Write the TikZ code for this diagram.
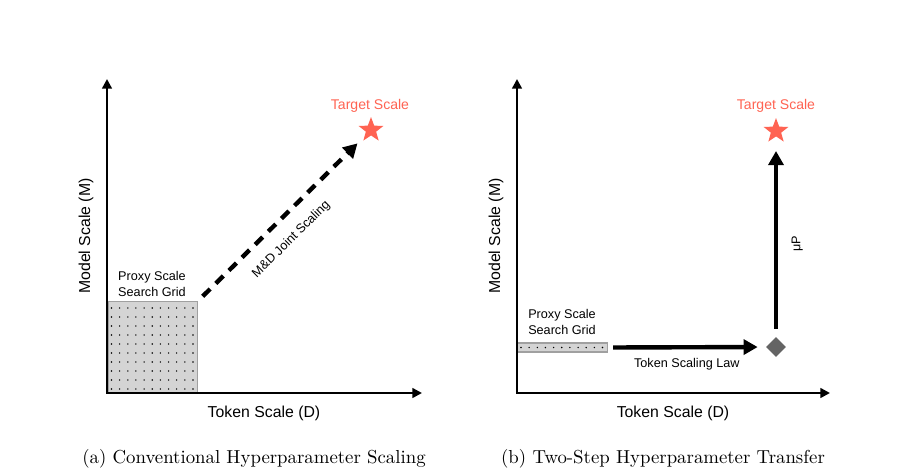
\documentclass[tikz,border=0pt]{standalone}
\usepackage{fontspec}
\setsansfont{Liberation Sans}
\usepackage{tikz}
\usetikzlibrary{arrows.meta,shapes.geometric}

\definecolor{TargetRed}{RGB}{255,99,82}
\definecolor{GridGray}{RGB}{212,212,212}
\definecolor{GridEdge}{RGB}{160,160,160}
\definecolor{PivotGray}{RGB}{100,100,100}

\begin{document}
\begin{tikzpicture}[%
		font=\sffamily,
		axis/.style={line width=1.4pt, {Triangle[length=5.5pt,width=5.5pt]}-{Triangle[length=5.5pt,width=5.5pt]}},
		bigarrow/.style={line width=2.5pt, -{Triangle[length=8pt,width=8.5pt]}},
		jointarrow/.style={bigarrow, dash pattern=on 6pt off 4.5pt},
		proxybox/.style={draw=GridEdge, fill=GridGray, line width=0.6pt, inner sep=0pt},
		target/.style={star, star points=5, star point ratio=2.4, fill=TargetRed, inner sep=0pt, minimum size=0.52cm},
		targetlabel/.style={text=TargetRed, font=\sffamily\fontsize{8}{9.6}\selectfont},
		axislabel/.style={font=\sffamily\fontsize{9}{10.8}\selectfont},
		smalllabel/.style={font=\sffamily\fontsize{7.2}{8.6}\selectfont, align=center},
		caption/.style={font=\rmfamily\fontsize{10.7}{12.8}\selectfont}
		]

		\useasboundingbox (0,0) rectangle (18.36,9.4);

		%% (a) Conventional scaling
		\node[proxybox, anchor=south west, minimum width=1.78cm, minimum height=1.82cm] (gridA) at (2.16,1.54) {};
		\foreach \i in {0,...,10} {
			\foreach \j in {0,...,9} {
				\fill (2.23+0.163*\i, 1.62+0.18*\j) circle (0.45pt);
			}
		}
		\node[smalllabel] (proxyA) at (3.04,3.72) {Proxy Scale\\Search Grid};

		\coordinate (originA) at (2.14,1.54);
		\coordinate (yEndA) at (2.14,7.82);
		\coordinate (xEndA) at (8.44,1.54);
		\draw[axis] (yEndA) -- (originA) -- (xEndA);
		\node[axislabel, rotate=90] (modelA) at (1.72,4.68) {Model Scale (M)};
		\node[axislabel] (tokenA) at (5.28,1.14) {Token Scale (D)};

		\node[target] (starA) at (7.42,6.8) {};
		\node[targetlabel] (targetA) at (7.40,7.28) {Target Scale};
		\draw[jointarrow, shorten <=0.13cm, shorten >=0.38cm] (gridA.north east) -- node[sloped, below=0.16cm, pos=0.45, smalllabel] (jointA) {M\&D Joint Scaling} (starA.center);

		\node[caption] (capA) at (5.08,0.22) {(a) Conventional Hyperparameter Scaling};

		%% (b) Two-step transfer
		\node[proxybox, anchor=west, minimum width=1.8cm, minimum height=0.18cm] (gridB) at (10.34,2.45) {};
		\foreach \i in {0,...,10} {
			\fill (10.42+0.163*\i, 2.45) circle (0.45pt);
		}
		\node[smalllabel] (proxyB) at (11.24,2.96) {Proxy Scale\\Search Grid};

		\coordinate (originB) at (10.34,1.54);
		\coordinate (yEndB) at (10.34,7.82);
		\coordinate (xEndB) at (16.6,1.54);
		\draw[axis] (yEndB) -- (originB) -- (xEndB);
		\node[axislabel, rotate=90] (modelB) at (9.92,4.68) {Model Scale (M)};
		\node[axislabel] (tokenB) at (13.46,1.14) {Token Scale (D)};

		\node[diamond, fill=PivotGray, inner sep=0pt, minimum width=0.4cm, minimum height=0.4cm] (pivotB) at (15.52,2.46) {};
		\node[target] (starB) at (15.52,6.78) {};
		\node[targetlabel] (targetB) at (15.52,7.28) {Target Scale};
		\draw[bigarrow, shorten <=0.1cm, shorten >=0.16cm] (gridB.east) -- node[below=0.06cm, smalllabel] (lawB) {Token Scaling Law} (pivotB.west);
		\draw[bigarrow, shorten <=0.16cm, shorten >=0.4cm] (pivotB.north) -- node[sloped, below=0.15cm, pos=0.45, smalllabel] (muB) {μP} (starB.center);

		\node[caption] (capB) at (13.26,0.22) {(b) Two-Step Hyperparameter Transfer};
	\end{tikzpicture}
\end{document}
